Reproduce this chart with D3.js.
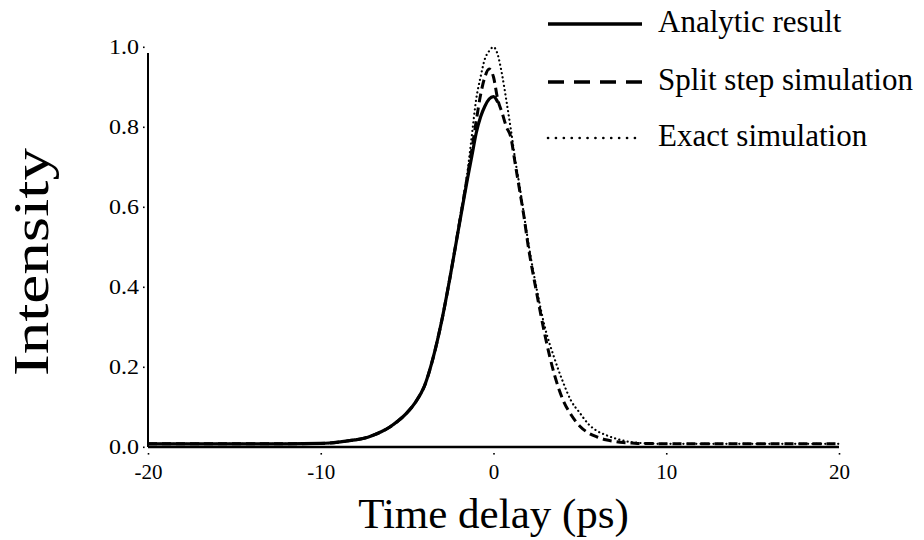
<!DOCTYPE html>
<html>
<head>
<meta charset="utf-8">
<script src="https://cdn.jsdelivr.net/npm/d3@7"></script>
<style>
  html, body { margin: 0; padding: 0; background: #fff; }
  svg { display: block; }
  text { font-family: "Liberation Serif", "Times New Roman", serif; fill: #000; }
</style>
</head>
<body>
<svg id="chart" width="924" height="540"></svg>
<script>
// Sample times (ps)
const time = [-20, -16, -12, -10, -9.5, -9, -8.5, -8, -7.5, -7, -6.5, -6, -5.5, -5, -4.5, -4,
  -3.5, -3, -2.5, -2, -1.75, -1.5, -1.25, -1, -0.75, -0.5, -0.25, 0, 0.25, 0.5, 0.75, 1,
  1.25, 1.5, 1.75, 2, 2.5, 3, 3.5, 4, 4.5, 5, 5.5, 6, 6.5, 7, 7.5, 8, 8.5, 9, 9.5, 10, 12, 16, 20];

// Analytic result (leading edge up to the peak)
const analytic = [0.008, 0.008, 0.008, 0.009, 0.010, 0.012, 0.015, 0.018, 0.022, 0.029, 0.038, 0.050, 0.066, 0.086, 0.113, 0.152,
  0.222, 0.315, 0.428, 0.551, 0.612, 0.672, 0.728, 0.785, 0.825, 0.852, 0.870, 0.876, 0.862, null, null, null,
  null, null, null, null, null, null, null, null, null, null, null, null, null, null, null, null, null, null, null, null, null, null, null];

// Split step simulation
const splitStep = [0.008, 0.008, 0.008, 0.009, 0.010, 0.012, 0.015, 0.018, 0.022, 0.029, 0.038, 0.050, 0.066, 0.086, 0.113, 0.152,
  0.222, 0.315, 0.428, 0.553, 0.616, 0.680, 0.745, 0.815, 0.880, 0.925, 0.945, 0.925, 0.868, 0.835, 0.800, 0.775,
  0.710, 0.645, 0.580, 0.505, 0.385, 0.275, 0.185, 0.120, 0.080, 0.052, 0.035, 0.025, 0.018, 0.014, 0.011, 0.010, 0.009, 0.009, 0.008, 0.008, 0.008, 0.008, 0.008];

// Exact simulation
const exact = [0.008, 0.008, 0.008, 0.009, 0.010, 0.012, 0.015, 0.018, 0.022, 0.029, 0.038, 0.050, 0.066, 0.086, 0.113, 0.152,
  0.222, 0.315, 0.430, 0.556, 0.622, 0.690, 0.780, 0.870, 0.925, 0.970, 0.990, 1.000, 0.980, 0.930, 0.865, 0.795,
  0.720, 0.655, 0.585, 0.515, 0.395, 0.295, 0.225, 0.165, 0.115, 0.085, 0.057, 0.040, 0.030, 0.022, 0.016, 0.012, 0.010, 0.009, 0.008, 0.008, 0.008, 0.008, 0.008];

const xTicks = [-20, -10, 0, 10, 20];
const yTicks = [0.0, 0.2, 0.4, 0.6, 0.8, 1.0];

const seriesNames = ["Analytic result", "Split step simulation", "Exact simulation"];

const svg = d3.select("#chart");

const x = d3.scaleLinear().domain([-20, 20]).range([148, 839]);
const y = d3.scaleLinear().domain([0, 1]).range([447, 47]);

// Line styles per series
const styles = [
  { width: 3.2, dash: null, cap: "butt" },
  { width: 3, dash: "9,5", cap: "butt" },
  { width: 2.2, dash: "0.1,4.2", cap: "round" }
];

const seriesData = [analytic, splitStep, exact];

// Axes lines
const axes = svg.append("g");
axes.append("line")
  .attr("x1", x(-20)).attr("x2", x(-20))
  .attr("y1", y(0)).attr("y2", y(0.985))
  .attr("stroke", "#000").attr("stroke-width", 2);
axes.append("line")
  .attr("x1", x(-20)).attr("x2", x(20))
  .attr("y1", y(0)).attr("y2", y(0))
  .attr("stroke", "#000").attr("stroke-width", 2.5);

// Y ticks: small dots and labels
const yAxis = d3.axisLeft(y).tickValues(yTicks).tickFormat(d3.format(".1f")).tickSize(0).tickPadding(9);
const gy = svg.append("g").attr("transform", `translate(${x(-20)},0)`).call(yAxis);
gy.select(".domain").remove();
gy.selectAll("text")
  .attr("font-size", 21)
  .attr("font-family", "Liberation Serif")
  .attr("textLength", 30)
  .attr("lengthAdjust", "spacingAndGlyphs");
gy.selectAll(".tick").append("rect").attr("x", -5).attr("y", -1).attr("width", 1.6).attr("height", 1.6).attr("fill", "#000");

// X ticks: small dots and labels (plain hyphen for negatives)
const xAxis = d3.axisBottom(x).tickValues(xTicks).tickFormat(d => String(d)).tickSize(0).tickPadding(17);
const gx = svg.append("g").attr("transform", `translate(0,${y(0)})`).call(xAxis);
gx.select(".domain").remove();
gx.selectAll("text").attr("font-size", 21).attr("font-family", "Liberation Serif");
gx.selectAll(".tick").append("rect").attr("x", -0.8).attr("y", 6).attr("width", 1.6).attr("height", 1.6).attr("fill", "#000");

// Curves
const line = d3.line()
  .defined(d => d[1] !== null)
  .x(d => x(d[0]))
  .y(d => y(d[1]))
  .curve(d3.curveMonotoneX);

// draw exact first, then split step, then analytic on top
[2, 1, 0].forEach(i => {
  const pts = time.map((t, k) => [t, seriesData[i][k]]);
  svg.append("path")
    .datum(pts)
    .attr("d", line)
    .attr("fill", "none")
    .attr("stroke", "#000")
    .attr("stroke-width", styles[i].width)
    .attr("stroke-linecap", styles[i].cap)
    .attr("stroke-dasharray", styles[i].dash);
});

// Legend
const legend = svg.append("g");
const legendRows = [24, 82, 138];
seriesNames.forEach((name, i) => {
  legend.append("line")
    .attr("x1", 548).attr("x2", 642)
    .attr("y1", legendRows[i]).attr("y2", legendRows[i])
    .attr("stroke", "#000")
    .attr("stroke-width", i === 2 ? 2.6 : 3.4)
    .attr("stroke-linecap", styles[i].cap)
    .attr("stroke-dasharray", i === 1 ? "16,10" : (i === 2 ? "0.1,7.8" : null));
  legend.append("text")
    .attr("x", 658).attr("y", legendRows[i] + 8)
    .attr("font-size", 31)
    .text(name);
});

// Axis titles
svg.append("text")
  .attr("x", x(0)).attr("y", 528)
  .attr("text-anchor", "middle")
  .attr("font-size", 43)
  .text("Time delay (ps)");

svg.append("text")
  .attr("transform", `translate(48,262) rotate(-90)`)
  .attr("text-anchor", "middle")
  .attr("font-size", 50)
  .attr("textLength", 228)
  .attr("lengthAdjust", "spacingAndGlyphs")
  .text("Intensity");
</script>
</body>
</html>
